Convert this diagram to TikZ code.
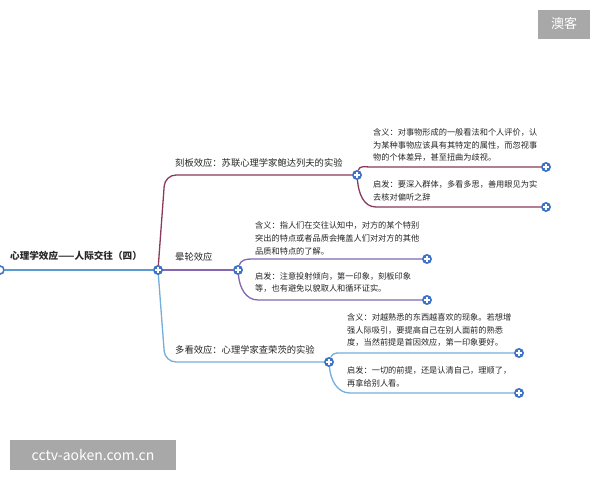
\documentclass[tikz,border=0pt]{standalone}
\usepackage{fontspec}
\setmainfont{Noto Sans CJK SC}
\usepackage{tikz}
\usetikzlibrary{positioning}
\definecolor{rootblue}{HTML}{5B9BD5}
\definecolor{dotblue}{HTML}{3D74C6}
\definecolor{keban}{HTML}{8A3A5C}
\definecolor{yunlun}{HTML}{8466B4}
\definecolor{duokan}{HTML}{74AEDA}
\definecolor{txt}{HTML}{262626}
\definecolor{mark}{HTML}{A8A8A8}
\tikzset{
    ringdot/.style={circle, draw=dotblue, fill=white, line width=1.6pt, minimum size=8pt, inner sep=0pt},
    plusdot/.style={circle, fill=dotblue, minimum size=10pt, inner sep=0pt,
      path picture={\draw[white, line width=1.3pt]
        ([xshift=-2.6pt]path picture bounding box.center) -- ([xshift=2.6pt]path picture bounding box.center)
        ([yshift=-2.6pt]path picture bounding box.center) -- ([yshift=2.6pt]path picture bounding box.center);}},
    leaf/.style={anchor=south west, align=left, inner sep=0pt, text=txt, font=\fontsize{8.2}{12.6}\selectfont},
    topic/.style={anchor=south west, inner sep=0pt, text=txt, font=\fontsize{9.3}{11}\selectfont},
    branch/.style={line width=1.3pt, line cap=round},
    wmark/.style={fill=mark, text=white, inner sep=0pt}
}

\begin{document}
\begin{tikzpicture}[x=1pt, y=-1pt]
    \useasboundingbox[fill=white] (0,0) rectangle (600,480);
    % root
    \node[ringdot] (start) at (0,270) {};
    \node[anchor=south west, inner sep=0pt, text=txt, font=\fontsize{9.6}{11}\selectfont\bfseries] (root) at (10,261)
      {心理学效应——人际交往（四）};
    \coordinate (hubpt) at (158,270);

    % 刻板效应
    \node[plusdot] (kb) at (357,175) {};
    \node[topic] (kbtitle) at (175,168) {刻板效应：苏联心理学家鲍达列夫的实验};
    \draw[branch, keban, rounded corners=11pt] (hubpt) -- (165,175) -- (kb);
    \node[plusdot] (kb1) at (546,167) {};
    \node[plusdot] (kb2) at (546,207) {};
    \node[leaf] (kbmean) at (373,162)
      {含义：对事物形成的一般看法和个人评价，认\\为某种事物应该具有其特定的属性，而忽视事\\物的个体差异，甚至扭曲为歧视。};
    \node[leaf] (kbhint) at (373,201)
      {启发：要深入群体，多看多思，善用眼见为实\\去核对偏听之辞};
    \draw[branch, keban] (kb) to[out=75, in=180] (370,167) -- (kb1);
    \draw[branch, keban] (kb) to[out=-85, in=180] (376,207) -- (kb2);

    % 晕轮效应
    \node[plusdot] (yl) at (238,270) {};
    \node[topic] (yltitle) at (175,262) {晕轮效应};
    \draw[branch, yunlun] (hubpt) -- (yl);
    \node[plusdot] (yl1) at (427,259) {};
    \node[plusdot] (yl2) at (427,300) {};
    \node[leaf] (ylmean) at (255,255)
      {含义：指人们在交往认知中，对方的某个特别\\突出的特点或者品质会掩盖人们对对方的其他\\品质和特点的了解。};
    \node[leaf] (ylhint) at (255,293)
      {启发：注意投射倾向，第一印象，刻板印象\\等，也有避免以貌取人和循环证实。};
    \draw[branch, yunlun] (yl) to[out=75, in=180] (252,259) -- (yl1);
    \draw[branch, yunlun] (yl) to[out=-85, in=180] (258,300) -- (yl2);

    % 多看效应
    \node[plusdot] (dk) at (329,362) {};
    \node[topic] (dktitle) at (175,355) {多看效应：心理学家查荣茨的实验};
    \draw[branch, duokan, rounded corners=11pt] (hubpt) -- (165,362) -- (dk);
    \node[plusdot] (dk1) at (519,353) {};
    \node[plusdot] (dk2) at (519,393) {};
    \node[leaf] (dkmean) at (347,347)
      {含义：对越熟悉的东西越喜欢的现象。若想增\\强人际吸引，要提高自己在别人面前的熟悉\\度，当然前提是首因效应，第一印象要好。};
    \node[leaf] (dkhint) at (347,387)
      {启发：一切的前提，还是认清自己，理顺了，\\再拿给别人看。};
    \draw[branch, duokan] (dk) to[out=70, in=180] (344,353) -- (dk1);
    \draw[branch, duokan] (dk) to[out=-85, in=180] (350,393) -- (dk2);

    % hub on top of the branches
    \node[plusdot] (hub) at (hubpt) {};
    \draw[branch, rootblue] (start) -- (hub);

    % watermarks
    \node[wmark, minimum width=52pt, minimum height=29pt, font=\fontsize{13}{15}\selectfont] (ao) at (564,24) {澳客};
    \node[wmark, minimum width=166pt, minimum height=30pt, font=\fontsize{14}{16}\selectfont] (site) at (93,455) {cctv-aoken.com.cn};
\end{tikzpicture}
\end{document}
